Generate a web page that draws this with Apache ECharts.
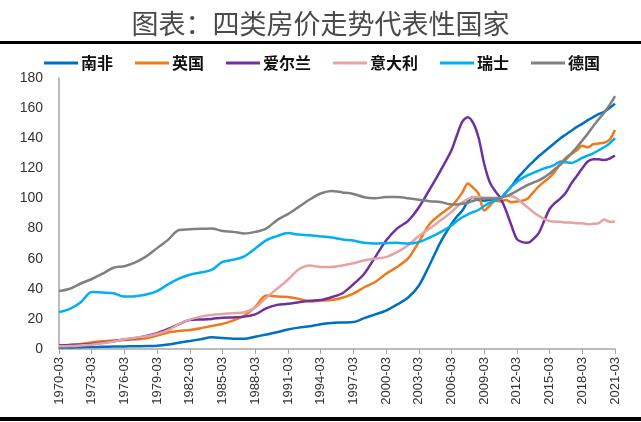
<!DOCTYPE html>
<html><head><meta charset="utf-8">
<script src="https://cdn.jsdelivr.net/npm/echarts@6/dist/echarts.min.js"></script>
<style>html,body{margin:0;padding:0;background:#fff}#c{width:641px;height:422px}</style>
</head><body><div id="c"></div>
<script>
// x positions: decimal years (1970.0 = 1970-03)
const years = [1970,1971,1972,1973,1974,1975,1976,1977,1978,1979,1980,1981,1982,1983,1984,1985,1986,1987,1988,1989,1990,1991,1992,1993,1994,1995,1996,1997,1998,1999,2000,2001,2002,2003,2004,2005,
2006,2006.5,2007,2007.5,2008,2008.5,2009,2009.5,2010,2010.5,2011,2011.5,2012,2012.5,2013,2013.5,2014,2014.5,2015,2015.5,2016,2016.5,2017,2017.5,2018,2018.5,2019,2019.5,2020,2020.5,2021];
const names = ['南非','英国','爱尔兰','意大利','瑞士','德国'];
const southAfrica = [1.0,1.0,1.2,1.3,1.5,1.6,1.7,1.8,2.0,2.2,3.0,4.2,5.3,6.5,7.8,7.3,6.8,6.8,8.2,9.6,11.1,13,14.2,15.1,16.5,17.3,17.6,17.9,20.5,23,25.5,29.5,34,42,56,71,
83,88,92,98,101,99,98.5,99,99.5,100,104,108,113,117,121,124.5,128,131,134,137,140,142.5,145,147.5,149.5,152,154,156,157.5,160,163];
const uk = [2.2,2.6,3.3,4.4,5.1,5.6,6.0,6.4,7.2,8.9,11,12,12.6,13.8,15.3,16.7,19,22.2,28,35.5,34.8,34.5,33.3,31.5,32.2,32.5,34,36.7,41,44.5,50,54.5,60,71,83,89.5,
95,99,104,110,107,103,92,95,98.5,98,99,97.5,98,98.5,100,104,108,111,114,118,123,127,129.5,132,135,134,136,136.5,137,139,145.5];
const ireland = [2.3,2.7,3.0,3.4,4.2,5.2,6.3,7.2,8.6,10.5,13.3,16.5,19.3,19.6,20,20.8,21,21.5,23,27,29.3,30,31,32,32.5,34.4,37,43,50,61,72,80,85,94,106,118.5,
132,142,151,154,150,140,123,111,105,100,92,82,73,71,70.5,73,77,85,93,97,100,104,110,115,120,124.5,126,126,125.5,126.5,128.5];
const italy = [1.8,2.0,2.4,2.9,3.8,5.0,6.5,7.5,8.5,10,12.5,16.5,19.5,21.5,22.6,23.2,23.8,24.4,27.5,34,40,46,53,55.5,54.5,54.5,55.5,57,58.8,60,61,64.3,68.8,75,80,85.4,
90.9,94.5,97.5,99.5,101,101,100.5,100.5,100.5,100,101.5,101.5,100,97,94,91,88.5,86.5,85,84.5,84.5,84,84,83.5,83.5,82.8,83.2,83.5,86,84.5,84.5];
const switzerland = [24.5,26.7,31,37.8,37.5,37,34.8,35,36.2,38.5,42.9,46.7,49.3,50.8,52.5,57.8,59.3,61.5,66.7,72.2,75,77,76,75.5,74.8,74,72.8,72,70.5,70,70.3,70.5,70,71,74,77.6,
82,85,87.5,89.5,91,92.5,95,97,98.5,100,104,108,111,113.5,115.5,117,118.5,120,121,122.5,124.5,124,123.5,125,127,128.5,130,132,134,136.5,140];
const germany = [38.5,40,43.5,46.5,50,54,55,57.5,61.5,67,72.5,79,79.5,79.8,80,78.4,77.8,76.7,77.8,80,85.6,89.6,94.4,99.3,103.3,105,104,103,100.8,100.2,100.9,100.9,100.2,99.1,98.2,97.6,
96,96,96.5,97,98.5,99.5,100,100,100,100.5,101.5,103,105,107,109,110.5,112,114,116.5,119.5,122.5,126,130,134,138.5,143,148,152.5,157,162,168];
const seriesValues = [southAfrica, uk, ireland, italy, switzerland, germany];
const colors = ['#0070C0','#EE7A1A','#7030A0','#E6A3A3','#00B0F0','#808080'];

const chart = echarts.init(document.getElementById('c'), null, {renderer:'canvas'});
const axisFont = 'Liberation Sans, Arial, sans-serif';
chart.setOption({
  animation:false,
  backgroundColor:'#fff',
  title:{text:'图表：四类房价走势代表性国家', left:'center', top:5,
    textStyle:{fontFamily:'Noto Sans CJK SC', fontSize:27, fontWeight:'normal', color:'#4a4a4a'}},
  graphic:[
    {type:'rect', shape:{x:0,y:41,width:641,height:3}, style:{fill:'#000'}},
    {type:'rect', shape:{x:0,y:417,width:641,height:4}, style:{fill:'#000'}}
  ],
  legend:{top:50, left:39, itemWidth:34, itemHeight:3, itemGap:22, icon:'rect',
    textStyle:{fontFamily:'Noto Sans CJK SC', fontSize:16, fontWeight:'bold', color:'#111', padding:[0,0,0,-2]},
    data:names},
  grid:{left:59, right:26, top:78, bottom:73},
  xAxis:{type:'value', min:1970, max:2021, interval:3,
    axisLine:{lineStyle:{color:'#A6A6A6', width:1.5}},
    axisTick:{show:true, length:5, lineStyle:{color:'#A6A6A6'}},
    splitLine:{show:false},
    axisLabel:{rotate:90, margin:8, fontFamily:axisFont, fontSize:13, color:'#333',
      formatter:v=>v+'-03'}},
  yAxis:{type:'value', min:0, max:180, interval:20,
    axisLine:{show:true, lineStyle:{color:'#A6A6A6', width:1.5}},
    axisTick:{show:false}, splitLine:{show:false},
    axisLabel:{margin:16, fontFamily:axisFont, fontSize:14, color:'#333'}},
  series: names.map((n,i)=>({
    name:n, type:'line', showSymbol:false, symbol:'none', smooth:0.3,
    color:colors[i],
    lineStyle:{width:2.5, color:colors[i]},
    data: years.map((y,k)=>[y, seriesValues[i][k]])
  }))
});
</script></body></html>
